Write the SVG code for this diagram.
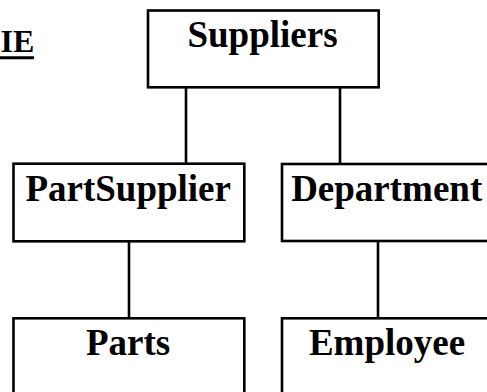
<svg xmlns="http://www.w3.org/2000/svg" width="487" height="392" viewBox="0 0 487 392">
  <style>
    .box { fill: #ffffff; stroke: #000000; stroke-width: 2.6; }
    .link { stroke: #000000; stroke-width: 2.6; fill: none; }
    .label { font-family: "Liberation Serif", "Times New Roman", serif; font-weight: bold; font-size: 37px; fill: #000000; text-anchor: middle; }
    .title { font-family: "Liberation Serif", "Times New Roman", serif; font-weight: bold; font-size: 32px; fill: #000000; text-anchor: start; }
  </style>
  <rect x="0" y="0" width="487" height="392" fill="#ffffff"/>

  <!-- heading fragment, underlined -->
  <g id="heading">
    <text class="title" x="0.5" y="52.3">IE</text>
    <line x1="0" y1="57.7" x2="34" y2="57.7" stroke="#000000" stroke-width="3"/>
  </g>

  <!-- connectors -->
  <g id="connectors">
    <line class="link" x1="186" y1="87.3" x2="186" y2="163.7"/>
    <line class="link" x1="340" y1="87.3" x2="340" y2="164"/>
    <line class="link" x1="129" y1="241.3" x2="129" y2="318.3"/>
    <line class="link" x1="378" y1="241" x2="378" y2="318.3"/>
  </g>

  <g id="suppliers">
    <rect class="box" x="148" y="10.5" width="230.7" height="76.8"/>
    <text class="label" x="262.5" y="47">Suppliers</text>
  </g>

  <g id="partsupplier">
    <rect class="box" x="13.5" y="163.7" width="230.8" height="77.6"/>
    <text class="label" x="128.2" y="201">PartSupplier</text>
  </g>

  <g id="department">
    <rect class="box" x="282" y="164" width="240" height="77"/>
    <text class="label" x="386.7" y="201">Department</text>
  </g>

  <g id="parts">
    <rect class="box" x="13.5" y="318.3" width="230.8" height="100"/>
    <text class="label" x="128" y="355">Parts</text>
  </g>

  <g id="employee">
    <rect class="box" x="282" y="318.3" width="240" height="100"/>
    <text class="label" x="387" y="355">Employee</text>
  </g>
</svg>
